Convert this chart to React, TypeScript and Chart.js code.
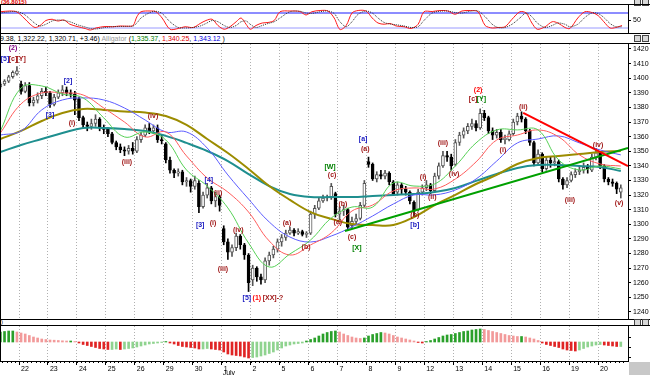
import React, { useEffect, useRef } from 'react';
import { Chart, registerables } from 'chart.js';
Chart.register(...registerables);

const FONT = '"Liberation Sans", Arial, sans-serif';

// ---- time axis: hourly bars, 7 bars per session; session "22" starts at bar 5
const dayLabels = ['22', '23', '24', '25', '26', '29', '30', '1', '2', '5', '6', '7', '8', '9', '12', '13', '14', '15', '16', '19', '20'];
const dayStarts = [4.5, 11.5, 18.5, 25.5, 32.5, 39.5, 46.5, 53.5, 60.5, 67.5, 74.5, 81.5, 88.5, 95.5, 102.5, 109.5, 116.5, 123.5, 130.5, 137.5, 144.5];
const X_MIN = -0.094;
const X_MAX = 151.74;

// ---- price candles (bar 0..150)
const barOpen = [1394, 1396, 1398, 1401, 1403, 1396, 1391, 1395, 1383, 1385, 1388, 1391, 1390, 1382, 1387, 1390, 1392, 1390, 1389, 1386,
  1373, 1368, 1367, 1369, 1372, 1366, 1365, 1362, 1356, 1353, 1351, 1350, 1352, 1350, 1358, 1361, 1366, 1364, 1366, 1358,
  1355, 1344, 1337, 1335, 1336, 1329, 1330, 1326, 1328, 1312, 1320, 1325, 1316, 1319, 1297, 1288, 1281, 1284, 1292, 1286,
  1279, 1262, 1270, 1264, 1262, 1275, 1279, 1283, 1288, 1291, 1294, 1296, 1294, 1295, 1293, 1294, 1307, 1311, 1316, 1318,
  1318, 1321, 1307, 1309, 1310, 1299, 1302, 1304, 1313, 1343, 1341, 1331, 1334, 1333, 1335, 1329, 1322, 1327, 1324, 1322,
  1315, 1310, 1322, 1325, 1327, 1323, 1333, 1340, 1347, 1346, 1341, 1356, 1361, 1364, 1367, 1369, 1366, 1376, 1373, 1364,
  1361, 1363, 1358, 1358, 1362, 1370, 1374, 1372, 1364, 1356, 1342, 1348, 1338, 1344, 1342, 1343, 1331, 1327, 1330, 1334,
  1336, 1337, 1339, 1337, 1346, 1349, 1340, 1331, 1329, 1328, 1322];
const barHigh = [1397, 1399, 1402, 1405, 1408, 1398, 1397, 1397, 1387, 1390, 1393, 1394, 1391, 1389, 1392, 1395, 1394, 1392, 1391, 1387,
  1374, 1370, 1372, 1375, 1373, 1368, 1366, 1363, 1357, 1355, 1353, 1354, 1356, 1360, 1363, 1368, 1369, 1368, 1368, 1361,
  1356, 1346, 1338, 1338, 1337, 1332, 1331, 1333, 1330, 1322, 1328, 1326, 1322, 1320, 1299, 1290, 1286, 1294, 1293, 1287,
  1280, 1272, 1271, 1266, 1277, 1281, 1285, 1290, 1293, 1296, 1298, 1297, 1297, 1296, 1295, 1309, 1313, 1318, 1320, 1320,
  1328, 1322, 1312, 1313, 1311, 1305, 1307, 1315, 1330, 1346, 1342, 1336, 1337, 1337, 1336, 1330, 1329, 1328, 1326, 1323,
  1316, 1324, 1327, 1330, 1328, 1335, 1342, 1350, 1350, 1348, 1358, 1363, 1366, 1369, 1372, 1371, 1379, 1378, 1374, 1366,
  1365, 1365, 1361, 1364, 1372, 1376, 1377, 1373, 1365, 1357, 1351, 1349, 1346, 1346, 1346, 1344, 1332, 1332, 1336, 1338,
  1340, 1342, 1341, 1348, 1352, 1350, 1341, 1332, 1331, 1329, 1327];
const barLow = [1393, 1395, 1397, 1400, 1402, 1389, 1390, 1381, 1381, 1383, 1386, 1388, 1380, 1381, 1386, 1388, 1388, 1387, 1375, 1371,
  1366, 1364, 1365, 1367, 1364, 1362, 1360, 1355, 1351, 1349, 1347, 1348, 1348, 1349, 1356, 1360, 1362, 1362, 1356, 1355,
  1342, 1335, 1332, 1333, 1327, 1326, 1322, 1324, 1308, 1311, 1318, 1314, 1312, 1309, 1286, 1276, 1278, 1282, 1283, 1276,
  1254, 1258, 1261, 1259, 1260, 1272, 1277, 1281, 1285, 1289, 1293, 1292, 1293, 1292, 1291, 1293, 1304, 1310, 1315, 1316,
  1317, 1305, 1303, 1306, 1296, 1297, 1300, 1303, 1312, 1339, 1330, 1329, 1331, 1331, 1327, 1320, 1320, 1321, 1320, 1314,
  1306, 1309, 1320, 1323, 1321, 1322, 1331, 1339, 1343, 1337, 1340, 1354, 1359, 1362, 1365, 1364, 1365, 1371, 1362, 1358,
  1359, 1356, 1355, 1357, 1361, 1368, 1370, 1362, 1354, 1340, 1341, 1336, 1337, 1339, 1340, 1329, 1324, 1325, 1329, 1332,
  1334, 1335, 1335, 1336, 1344, 1338, 1329, 1327, 1326, 1321, 1318];
const barClose = [1396, 1398, 1401, 1404, 1405, 1391, 1395, 1383, 1385, 1388, 1391, 1390, 1382, 1387, 1390, 1392, 1390, 1389, 1385, 1373,
  1368, 1367, 1369, 1372, 1366, 1365, 1362, 1356, 1353, 1351, 1350, 1352, 1350, 1358, 1361, 1366, 1364, 1366, 1358, 1357,
  1344, 1337, 1335, 1336, 1329, 1330, 1326, 1330, 1312, 1320, 1325, 1316, 1319, 1313, 1288, 1281, 1284, 1292, 1286, 1279,
  1260, 1270, 1264, 1262, 1275, 1279, 1283, 1288, 1291, 1294, 1296, 1294, 1295, 1293, 1294, 1307, 1311, 1316, 1318, 1318,
  1326, 1307, 1309, 1310, 1298, 1302, 1304, 1313, 1328, 1341, 1331, 1334, 1333, 1335, 1329, 1321, 1327, 1324, 1322, 1316,
  1309, 1322, 1325, 1327, 1323, 1333, 1340, 1347, 1346, 1340, 1356, 1361, 1364, 1367, 1369, 1366, 1376, 1373, 1364, 1361,
  1363, 1358, 1359, 1362, 1370, 1374, 1372, 1364, 1356, 1342, 1348, 1338, 1344, 1342, 1343, 1331, 1327, 1330, 1334, 1336,
  1337, 1339, 1338, 1346, 1349, 1340, 1331, 1329, 1328, 1324, 1325];

// ---- moving-average lines sampled every 5 bars
const lineBars = [0, 5, 10, 15, 20, 25, 30, 35, 40, 45, 50, 55, 60, 65, 70, 75, 80, 85, 90, 95, 100, 105, 110, 115, 120, 125, 130, 135, 140, 145, 150];
const lipsGreen = [1363.9, 1393.3, 1394.7, 1389.2, 1386.5, 1372.8, 1359.8, 1363.2, 1357.7, 1337.2, 1326.2, 1311.2, 1287.2, 1270.8, 1279.7, 1289.3,
  1304.3, 1311.8, 1311.8, 1328.3, 1326.2, 1327.6, 1339.9, 1355.7, 1364.6, 1364.6, 1364.6, 1344.0, 1337.2, 1339.9, 1337.9];
const teethRed = [1362.5, 1382.4, 1389.9, 1389.9, 1388.5, 1379.6, 1370.0, 1359.8, 1363.2, 1346.8, 1331.7, 1322.1, 1308.4, 1288.6, 1279.0, 1285.9,
  1294.1, 1309.1, 1313.2, 1322.8, 1324.9, 1324.2, 1331.0, 1342.7, 1357.7, 1361.1, 1364.6, 1359.8, 1347.5, 1341.3, 1339.9];
const jawBlue = [1361.1, 1363.9, 1378.3, 1385.1, 1386.5, 1385.1, 1379.6, 1371.4, 1363.2, 1363.2, 1352.2, 1333.8, 1317.3, 1301.6, 1291.3, 1287.9,
  1292.0, 1298.2, 1305.7, 1313.9, 1320.1, 1320.1, 1323.5, 1331.0, 1343.3, 1355.7, 1358.4, 1360.5, 1355.7, 1350.9, 1347.5];
const maOlive = [1358.4, 1363.9, 1370.7, 1376.2, 1378.9, 1378.3, 1377.2, 1376.5, 1374.1, 1368.0, 1358.4, 1348.8, 1337.9, 1326.2, 1316.7, 1308.4,
  1303.7, 1300.2, 1299.5, 1299.5, 1305.0, 1313.2, 1320.1, 1327.6, 1333.8, 1341.3, 1345.4, 1346.8, 1348.1, 1349.5, 1350.2];
const maTeal = [1349.5, 1354.3, 1358.4, 1362.5, 1365.9, 1365.9, 1365.2, 1363.9, 1360.5, 1355.7, 1350.2, 1343.3, 1334.4, 1326.2, 1320.8, 1318.7,
  1318.7, 1318.7, 1319.4, 1320.1, 1320.8, 1322.1, 1324.9, 1329.7, 1334.4, 1338.6, 1340.6, 1340.6, 1339.9, 1339.2, 1336.5];

// ---- trend lines
const trendGreenBars = [83.3, 151.74];
const trendGreenPrices = [1295.4, 1352.2];
const trendRedBars = [126.4, 151.74];
const trendRedPrices = [1376.2, 1339.9];

const priceTicks = [1240, 1245, 1250, 1255, 1260, 1265, 1270, 1275, 1280, 1285, 1290, 1295, 1300, 1305, 1310, 1315, 1320, 1325, 1330,
  1335, 1340, 1345, 1350, 1355, 1360, 1365, 1370, 1375, 1380, 1385, 1390, 1395, 1400, 1405, 1410, 1415, 1420];

// ---- Elliott wave annotations
const waveText = ['(2)', '[5]', '[c]', '[Y]', '[2]', '[3]', '(i)', '(iii)', '(iv)', '[3]', '[4]', '(ii)', '(i)', '(iii)', '(iv)', '[5]', '(1)', '[XX]-?',
  '(a)', '(b)', '[W]', '(c)', '(b)', '(a)', '(c)', '[X]', '[a]', '(a)', '(i)', '(ii)', '(b)', '[b]', '(iii)', '(iv)', '(2)', '[c]', '[Y]', '(ii)', '(i)', '(iii)', '(iv)', '(v)'];
const waveBar = [3.05, 1.1, 3.05, 5.0, 16.35, 12.0, 17.3, 30.6, 36.9, 48.3, 50.4, 52.6, 51.4, 53.8, 57.5, 59.6, 62.0, 65.9,
  69.3, 73.9, 79.7, 80.2, 82.8, 81.6, 85.0, 86.2, 87.7, 88.2, 102.2, 104.4, 100.2, 100.2, 107.0, 109.7, 115.5, 114.3, 116.3, 126.4, 121.5, 137.7, 144.5, 149.6];
const wavePrice = [1420.7, 1413.2, 1413.2, 1413.2, 1398.1, 1374.8, 1369.4, 1342.7, 1374.1, 1299.5, 1330.3, 1321.4, 1300.9, 1269.4, 1296.1, 1249.6, 1249.6, 1249.6,
  1300.9, 1284.5, 1339.2, 1333.8, 1313.9, 1301.6, 1291.3, 1283.8, 1358.4, 1351.6, 1332.4, 1318.7, 1306.4, 1299.5, 1355.7, 1334.5, 1391.9, 1385.8, 1385.8, 1380.3, 1350.9, 1316.7, 1354.3, 1314.6];
const WR = '#a01818', WB = '#1818c0', WG = '#008000', RR = '#ff0000', PU = '#800080';
const waveColor = [PU, WB, WR, WR, WB, WB, WR, WR, WR, WB, WB, WR, WR, WR, WR, WB, RR, WR,
  WR, WR, WG, WR, WR, WR, WR, WG, WB, WR, WR, WR, WR, WB, WR, WR, RR, WR, WG, WR, WR, WR, WR, WR];

// ---- stochastic oscillator
const stochBars = [0, 2.3, 4.0, 5.7, 7.2, 8.4, 9.6, 11.0, 12.5, 13.9, 15.4, 16.8, 18.8, 20.5, 21.7, 23.1, 25.3, 27.2, 28.9, 30.9,
  32.1, 33.0, 34.0, 36.2, 37.6, 39.1, 41.0, 43.0, 44.6, 46.6, 48.3, 49.7, 51.2, 52.6, 54.1, 55.5, 57.0, 58.2, 59.4, 60.4,
  61.8, 63.3, 64.7, 66.2, 67.6, 70.0, 72.4, 73.9, 75.3, 77.3, 79.2, 80.7, 82.1, 83.6, 85.0, 86.5, 88.4, 89.9, 91.3, 92.8,
  94.2, 95.7, 97.6, 99.3, 101.0, 102.4, 104.4, 106.3, 108.2, 109.9, 111.6, 113.6, 115.5, 117.2, 118.9, 120.3, 122.0, 123.7, 125.6, 127.1,
  128.5, 129.8, 131.7, 133.4, 134.8, 136.5, 137.7, 139.6, 141.3, 143.0, 144.5, 145.9, 147.4, 148.8, 150.3];
const stochK = [85, 88, 84, 60, 35, 22, 30, 50, 55, 48, 52, 35, 25, 18, 12, 20, 26, 25, 28, 27,
  30, 65, 85, 88, 85, 60, 15, 18, 25, 22, 38, 50, 55, 30, 15, 25, 45, 60, 35, 15,
  30, 40, 42, 50, 85, 88, 86, 72, 85, 90, 88, 60, 14, 30, 80, 90, 88, 60, 40, 35,
  38, 28, 25, 18, 35, 85, 86, 90, 88, 75, 88, 90, 85, 30, 20, 22, 25, 55, 85, 80,
  40, 15, 25, 45, 40, 22, 18, 60, 85, 82, 70, 45, 20, 22, 30];
const stochD = [80, 85, 86, 75, 55, 38, 28, 35, 48, 52, 50, 45, 32, 24, 18, 16, 22, 25, 26, 27,
  28, 40, 60, 82, 87, 78, 45, 22, 20, 22, 28, 38, 50, 45, 30, 22, 30, 45, 48, 35,
  22, 30, 38, 45, 60, 85, 87, 80, 78, 85, 88, 78, 45, 25, 45, 75, 88, 80, 60, 42,
  36, 33, 28, 22, 25, 50, 80, 87, 88, 82, 80, 87, 88, 65, 35, 22, 22, 35, 60, 80,
  65, 40, 22, 30, 40, 35, 25, 35, 62, 80, 78, 62, 38, 25, 25];
const stochLevels = [80, 20];

// ---- oscillator histogram (one value per bar)
const aoValues = [10, 10.5, 11, 11, 10, 9, 8, 6.5, 5, 4, 3, 2.5, 2, 1.8, 1.5, 1.2, 1, 1, 0.5, -1,
  -2.5, -3.5, -4.5, -5.5, -6.5, -7, -7.5, -7.5, -7, -7.5, -7, -6.5, -6, -5, -4, -3, -2, -1.5, -1, -0.5,
  0.5, -1, -2, -3.5, -4.5, -5, -5.5, -6, -7, -7, -6.5, -7, -7.5, -8, -10, -12, -13, -13.5, -14, -15,
  -16, -15.5, -15, -14, -13, -11.5, -10, -8, -6, -4, -3, -2, -1.5, -1, 1, 2.5, 4, 6, 8, 9.5,
  10.5, 11, 10, 8, 6.5, 5, 4, 3.5, 4, 6, 7.5, 8.5, 9.5, 9, 8, 6.5, 5, 4, 3, 2,
  1, -0.5, -1, 0.5, 1.5, 3, 4.5, 6, 7, 7.5, 8.5, 9.5, 10.5, 11, 12, 12.5, 13, 12.5, 11.5, 10.5,
  9.5, 8.5, 7.5, 6.5, 6, 5.5, 5.5, 5, 4, 3, 1.5, -1, -2.5, -3.5, -4.5, -5.5, -7, -8, -8.5, -9,
  -8, -6.5, -5, -4, -3, -2.5, -3, -3.5, -4, -4.5, -4.5];

const dayLabelFor = (v: number) => dayLabels[Math.round((v - 4.5) / 7)] ?? '';

const xDayAxis = (showLabels: boolean) => ({
  type: 'linear' as const,
  min: X_MIN,
  max: X_MAX,
  offset: false,
  position: 'bottom' as const,
  afterBuildTicks: (s: any) => { s.ticks = dayStarts.map((v) => ({ value: v })); },
  ticks: showLabels
    ? { display: true, callback: (v: any) => dayLabelFor(Number(v)), align: 'start' as const, labelOffset: 2, padding: 0,
        font: { size: 7, family: FONT }, color: '#000', maxRotation: 0, autoSkip: false }
    : { display: false },
  grid: { color: '#b0b0b0', offset: false, drawTicks: showLabels, tickLength: 4, tickColor: '#000', tickBorderDash: [] },
  border: { display: showLabels, color: '#000', dash: [1, 2] },
  afterFit: (s: any) => { s.height = showLabels ? 14 : 0; s.paddingLeft = 0; s.paddingRight = 0; },
});

const rightAxis = (min: number, max: number, ticks: number[], label: (v: number) => string) => ({
  type: 'linear' as const,
  position: 'right' as const,
  min,
  max,
  afterBuildTicks: (s: any) => { s.ticks = ticks.map((v) => ({ value: v })); },
  ticks: { font: { size: 7, family: FONT }, color: '#000', padding: 2, callback: (v: any) => label(Number(v)) },
  grid: { drawOnChartArea: false, tickLength: 3, color: '#000' },
  border: { color: '#000' },
  afterFit: (s: any) => { s.width = 22; s.paddingTop = 0; s.paddingBottom = 0; },
});

const wavePlugin = {
  id: 'waveLabels',
  afterDatasetsDraw(chart: any) {
    const { ctx, scales } = chart;
    ctx.save();
    ctx.font = `bold 7px ${FONT}`;
    ctx.textAlign = 'center';
    ctx.textBaseline = 'middle';
    waveText.forEach((t, i) => {
      ctx.fillStyle = waveColor[i];
      ctx.fillText(t, scales.x.getPixelForValue(waveBar[i]), scales.y.getPixelForValue(wavePrice[i]));
    });
    ctx.restore();
  },
};

const axisExtrasPlugin = {
  id: 'axisExtras',
  afterDraw(chart: any) {
    const { ctx, scales, chartArea } = chart;
    ctx.save();
    ctx.strokeStyle = '#000';
    ctx.lineWidth = 1;
    ctx.beginPath();
    for (let b = 0; b < barClose.length; b++) {
      const px = Math.round(scales.x.getPixelForValue(b + 0.5)) + 0.5;
      if (px > chartArea.right) break;
      ctx.moveTo(px, chartArea.bottom);
      ctx.lineTo(px, chartArea.bottom + 2);
    }
    ctx.stroke();
    ctx.fillStyle = '#000';
    ctx.font = `7px ${FONT}`;
    ctx.textAlign = 'left';
    ctx.textBaseline = 'top';
    ctx.fillText('July', scales.x.getPixelForValue(dayStarts[7]) + 1, chartArea.bottom + 9);
    ctx.restore();
  },
};

const noInteraction = { legend: { display: false }, tooltip: { enabled: false } };

export default function App() {
  const stochRef = useRef<HTMLCanvasElement>(null);
  const mainRef = useRef<HTMLCanvasElement>(null);
  const aoRef = useRef<HTMLCanvasElement>(null);

  useEffect(() => {
    const idx = barClose.map((_, i) => i);
    const up = idx.map((i) => barClose[i] >= barOpen[i]);

    const stoch = new Chart(stochRef.current!, {
      type: 'line',
      data: {
        datasets: [
          { data: stochBars.map((b, i) => ({ x: b, y: stochD[i] })), borderColor: '#303030', borderWidth: 1, borderDash: [1, 1], pointRadius: 0, tension: 0.3 },
          { data: stochBars.map((b, i) => ({ x: b, y: stochK[i] })), borderColor: '#ff1a1a', borderWidth: 1, pointRadius: 0, tension: 0.3 },
          { data: [{ x: X_MIN, y: stochLevels[0] }, { x: X_MAX, y: stochLevels[0] }], borderColor: '#1a1aff', borderWidth: 1, pointRadius: 0 },
          { data: [{ x: X_MIN, y: stochLevels[1] }, { x: X_MAX, y: stochLevels[1] }], borderColor: '#9a9aff', borderWidth: 1, pointRadius: 0 },
        ],
      },
      options: {
        responsive: false, animation: false, events: [],
        layout: { padding: 0 },
        plugins: noInteraction,
        scales: {
          x: { type: 'linear', min: X_MIN, max: X_MAX, display: false },
          y: rightAxis(0, 112, [50], (v) => String(v)),
        },
      } as any,
    });

    const main = new Chart(mainRef.current!, {
      type: 'bar',
      data: {
        datasets: [
          { type: 'line', data: trendRedBars.map((b, i) => ({ x: b, y: trendRedPrices[i] })), borderColor: '#ff0000', borderWidth: 2, pointRadius: 0, order: 0 },
          { type: 'line', data: trendGreenBars.map((b, i) => ({ x: b, y: trendGreenPrices[i] })), borderColor: '#00a000', borderWidth: 2, pointRadius: 0, order: 0 },
          { type: 'line', data: lineBars.map((b, i) => ({ x: b, y: lipsGreen[i] })), borderColor: '#55d055', borderWidth: 1, pointRadius: 0, tension: 0.4, order: 1 },
          { type: 'line', data: lineBars.map((b, i) => ({ x: b, y: teethRed[i] })), borderColor: '#ff5c5c', borderWidth: 1, pointRadius: 0, tension: 0.4, order: 1 },
          { type: 'line', data: lineBars.map((b, i) => ({ x: b, y: jawBlue[i] })), borderColor: '#5c5cff', borderWidth: 1, pointRadius: 0, tension: 0.4, order: 1 },
          { type: 'line', data: lineBars.map((b, i) => ({ x: b, y: maOlive[i] })), borderColor: '#9c8c00', borderWidth: 2, pointRadius: 0, tension: 0.4, order: 2 },
          { type: 'line', data: lineBars.map((b, i) => ({ x: b, y: maTeal[i] })), borderColor: '#1f8f8f', borderWidth: 2, pointRadius: 0, tension: 0.4, order: 2 },
          { type: 'bar', data: idx.map((i) => ({ x: i, y: [barLow[i], barHigh[i]] })), backgroundColor: idx.map((i) => (up[i] ? '#555' : '#000')),
            barThickness: 1, grouped: false, order: 6 },
          { type: 'bar', data: idx.map((i) => ({ x: i, y: [Math.min(barOpen[i], barClose[i]), Math.max(barOpen[i], barClose[i])] })),
            backgroundColor: idx.map((i) => (up[i] ? '#ffffff' : '#000000')), borderColor: idx.map((i) => (up[i] ? '#555' : '#000')),
            borderWidth: 1, borderSkipped: false, barThickness: 3, grouped: false, minBarLength: 1, order: 5 },
        ],
      },
      options: {
        responsive: false, animation: false, events: [],
        layout: { padding: 0 },
        plugins: noInteraction,
        scales: {
          x: xDayAxis(false),
          y: rightAxis(1235.2, 1423.4, priceTicks, (v) => String(v)),
        },
      } as any,
      plugins: [wavePlugin],
    });

    const ao = new Chart(aoRef.current!, {
      type: 'bar',
      data: {
        datasets: [
          {
            data: idx.map((i) => ({ x: i, y: aoValues[i] })),
            backgroundColor: idx.map((i) => {
              const v = aoValues[i];
              const p = i > 0 ? aoValues[i - 1] : v - 1;
              if (v >= p) return v >= 0 ? '#2aa02a' : '#8fd38f';
              return v >= 0 ? '#f29a9a' : '#e02424';
            }),
            barThickness: 2,
          },
        ],
      },
      options: {
        responsive: false, animation: false, events: [],
        layout: { padding: 0 },
        plugins: noInteraction,
        scales: {
          x: xDayAxis(true),
          y: rightAxis(-19, 16, [-15, -10, -5, 0, 5, 10], (v) => (v === 0 ? '0' : '')),
        },
      } as any,
      plugins: [axisExtrasPlugin],
    });

    return () => { stoch.destroy(); main.destroy(); ao.destroy(); };
  }, []);

  const hLine = (top: number) => (
    <div style={{ position: 'absolute', left: 0, top, width: 650, height: 1, background: '#000' }} />
  );
  const icons = (top: number) => (
    <div style={{ position: 'absolute', left: 634, top, width: 15, height: 6, display: 'flex', gap: 1 }}>
      <div style={{ width: 5, height: 5, border: '1px solid #444', background: '#d8d8d8' }} />
      <div style={{ width: 5, height: 5, border: '1px solid #444', background: '#d8d8d8' }} />
    </div>
  );

  return (
    <div style={{ position: 'fixed', left: 0, top: 0, width: 650, height: 375, background: '#fff', overflow: 'hidden', fontFamily: FONT }}>
      <div style={{ position: 'absolute', left: 1, top: -1, fontSize: 6, fontWeight: 'bold', color: '#e00000', lineHeight: '6px' }}>(36.8015)</div>
      {icons(-1)}
      {hLine(4)}
      <canvas ref={stochRef} width={650} height={28} style={{ position: 'absolute', left: 0, top: 5, display: 'block' }} />
      {hLine(33)}
      <div style={{ position: 'absolute', left: 0, top: 34, fontSize: 7, lineHeight: '9px', whiteSpace: 'nowrap', color: '#000' }}>
        9.38, 1,322.22, 1,320.71, +3.46) <span style={{ color: '#999' }}>Alligator</span> (
        <span style={{ color: '#008000' }}>1,335.37</span>, <span style={{ color: '#e00000' }}>1,340.25</span>,{' '}
        <span style={{ color: '#0000e0' }}>1,343.12</span> )
      </div>
      {icons(35)}
      {hLine(43)}
      <canvas ref={mainRef} width={650} height={275} style={{ position: 'absolute', left: 0, top: 44, display: 'block' }} />
      {hLine(319)}
      <div style={{ position: 'absolute', left: 1, top: 319, fontSize: 6, lineHeight: '6px', color: '#000' }}>)</div>
      {icons(319)}
      {hLine(325)}
      <canvas ref={aoRef} width={650} height={49} style={{ position: 'absolute', left: 0, top: 326, display: 'block' }} />
      <div style={{ position: 'absolute', left: 0, top: 4, width: 1, height: 358, background: '#000' }} />
      <div style={{ position: 'absolute', left: 629, top: 362, width: 21, height: 13, background: '#c8c8c8' }} />
    </div>
  );
}
